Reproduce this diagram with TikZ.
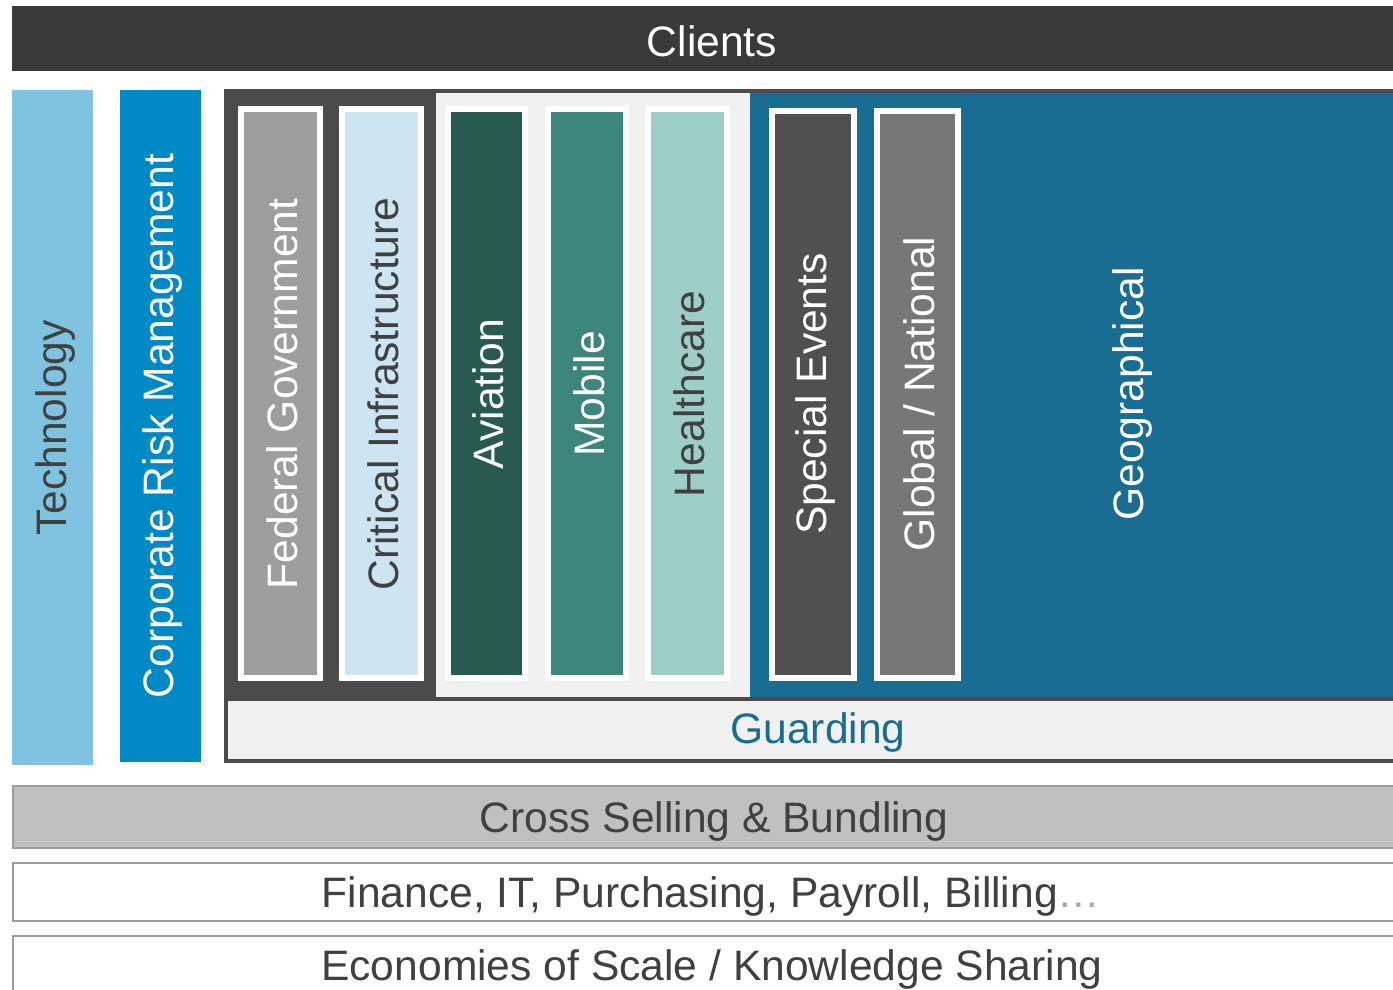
\documentclass[tikz,border=0pt]{standalone}
\usepackage{fontspec}
\setmainfont{Liberation Sans}
\definecolor{cClients}{HTML}{393939}
\definecolor{cTech}{HTML}{80C3E0}
\definecolor{cCrm}{HTML}{0089C4}
\definecolor{cDark}{HTML}{4B4B4B}
\definecolor{cLight}{HTML}{F1F1F1}
\definecolor{cBlue}{HTML}{1A6D92}
\definecolor{cFed}{HTML}{9E9E9E}
\definecolor{cCrit}{HTML}{CDE5F2}
\definecolor{cAvi}{HTML}{285A52}
\definecolor{cMob}{HTML}{3E867C}
\definecolor{cHea}{HTML}{9DCFC8}
\definecolor{cSpe}{HTML}{505050}
\definecolor{cGlo}{HTML}{777777}
\definecolor{cCross}{HTML}{C0C0C0}
\definecolor{cEdge}{HTML}{9C9C9C}
\definecolor{cTxt}{HTML}{404040}
\definecolor{cDots}{HTML}{A8A8A8}
\tikzset{
  lab/.style={font=\fontsize{42.6}{48}\selectfont, inner sep=0pt},
  vlab/.style={lab, rotate=90},
}
\begin{document}
\begin{tikzpicture}[x=1pt,y=-1pt]
\useasboundingbox (0,0) rectangle (1393,990);
\clip (0,0) rectangle (1393,990);
\fill[white] (0,0) rectangle (1393,990);
% Clients
\fill[cClients] (12,6) rectangle (1400,71);
\node[lab, text=white] (clients) at (712,41) {Clients};
% Technology, CRM
\fill[cTech] (12,90) rectangle (93,765);
\node[vlab, text=cTxt] (tech) at (55,428) {Technology};
\fill[cCrm] (120,90) rectangle (201,762);
\node[vlab, text=white] (crm) at (162,426) {Corporate Risk Management};
% panels
\fill[cDark] (224,89) rectangle (1400,701);
\fill[cLight] (436,93) rectangle (750,697);
\fill[cBlue] (750,93) rectangle (1400,697);
% Guarding
\draw[cDark, line width=4pt, fill=cLight] (226,699) rectangle (1410,761);
\node[lab, text=cBlue] (guard) at (818,732) {Guarding};
% columns
\newcommand{\column}[6]{%
  \fill[white] (#1,#3) rectangle (#2,681);
  \fill[#4] ({#1+6},{#3+6}) rectangle ({#2-6},675);
  \node[vlab, text=#5] at ({(#1+#2)/2+2},394) {#6};}
\column{238}{323}{106}{cFed}{white}{Federal Government}
\column{339}{424}{106}{cCrit}{cTxt}{Critical Infrastructure}
\column{445}{528}{106}{cAvi}{white}{Aviation}
\column{545}{629}{106}{cMob}{white}{Mobile}
\column{645}{730}{106}{cHea}{cTxt}{Healthcare}
\column{769}{857}{108}{cSpe}{white}{Special Events}
\column{874}{961}{108}{cGlo}{white}{Global / National}
\node[vlab, text=white] (geo) at (1132,394) {Geographical};
% bottom bars
\draw[cEdge, line width=2pt, fill=cCross] (13,786) rectangle (1410,848);
\node[lab, text=cTxt] (cross) at (714,821) {Cross Selling \& Bundling};
\draw[cEdge, line width=2pt, fill=white] (13,863) rectangle (1410,921);
\node[lab, text=cTxt] (fin) at (711,896) {Finance, IT, Purchasing, Payroll, Billing\textcolor{cDots}{…}};
\draw[cEdge, line width=2pt, fill=white] (13,936) rectangle (1410,1010);
\node[lab, text=cTxt] (eco) at (712,969) {Economies of Scale / Knowledge Sharing};
\end{tikzpicture}
\end{document}
